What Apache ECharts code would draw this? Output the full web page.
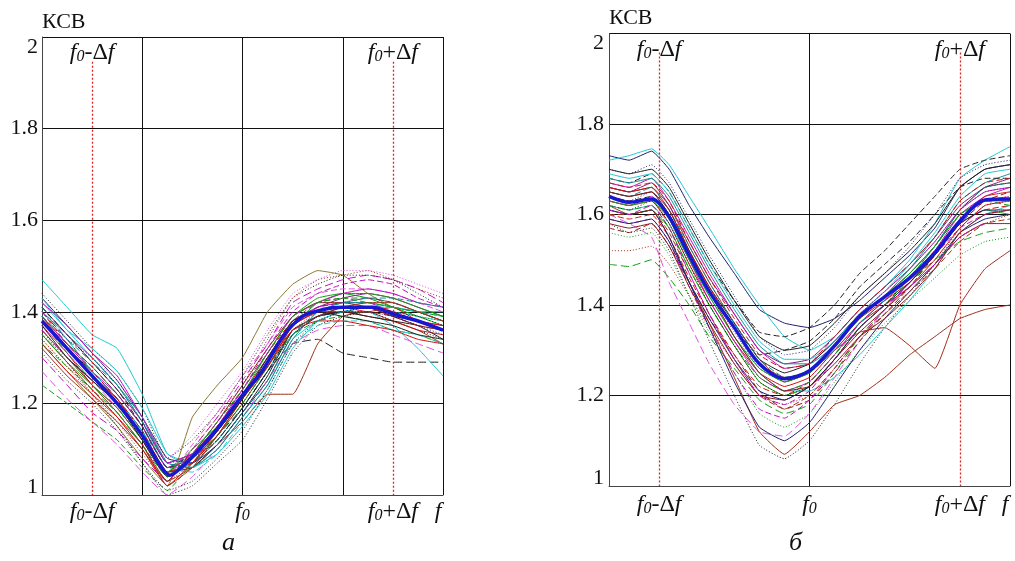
<!DOCTYPE html>
<html><head><meta charset="utf-8">
<script src="https://cdn.jsdelivr.net/npm/echarts@6/dist/echarts.min.js"></script>
<style>html,body{margin:0;padding:0;background:#fff}#c{width:1015px;height:561px}</style>
</head><body><div id="c"></div>
<script>
// ---------- DATA ----------
const yTicks = [1, 1.2, 1.4, 1.6, 1.8, 2];
const xLabelValues = [1, 4, 7, 7.9];          // f0-Δf, f0, f0+Δf, f
const markerX = [1, 7];                       // f0-Δf, f0+Δf (dotted lines)
const captions = ['а', 'б'];

// Panel а: x positions and curves
const xA = [0,0.5,1,1.5,2,2.5,3,3.5,4,4.5,5,5.5,6,6.5,7,7.5,8];
const a01 = [1.47,1.41,1.35,1.32,1.22,1.09,1.07,1.12,1.19,1.27,1.36,1.39,1.40,1.41,1.40,1.39,1.38];
const a02 = [1.40,1.34,1.27,1.21,1.13,1.05,1.08,1.13,1.19,1.27,1.33,1.34,1.31,1.30,1.29,1.29,1.29];
const a03 = [1.35,1.29,1.23,1.17,1.10,1.03,1.06,1.11,1.16,1.22,1.22,1.33,1.39,1.40,1.38,1.36,1.33];
const a04 = [1.42,1.36,1.30,1.24,1.16,1.06,1.06,1.10,1.17,1.24,1.34,1.38,1.40,1.40,1.37,1.32,1.26];
const a05 = [1.33,1.27,1.21,1.15,1.08,1.02,1.17,1.24,1.30,1.40,1.46,1.49,1.48,1.44,1.41,1.40,1.38];
const a06 = [1.36,1.29,1.22,1.15,1.07,1.00,1.02,1.07,1.12,1.21,1.31,1.37,1.39,1.40,1.38,1.36,1.34];
const a07 = [1.30,1.24,1.18,1.14,1.08,1.03,1.10,1.17,1.25,1.33,1.42,1.45,1.47,1.48,1.47,1.45,1.42];
const a08 = [1.37,1.31,1.24,1.19,1.12,1.04,1.08,1.15,1.22,1.30,1.37,1.40,1.40,1.39,1.38,1.36,1.35];
const a09 = [1.39,1.33,1.28,1.22,1.15,1.06,1.08,1.13,1.20,1.28,1.37,1.42,1.44,1.43,1.41,1.39,1.37];
const a10 = [1.41,1.35,1.29,1.23,1.16,1.07,1.09,1.14,1.21,1.29,1.38,1.41,1.43,1.44,1.43,1.41,1.39];
const a11 = [1.38,1.32,1.27,1.21,1.14,1.05,1.06,1.11,1.18,1.26,1.36,1.39,1.40,1.39,1.38,1.37,1.34];
const a12 = [1.34,1.28,1.22,1.16,1.09,1.03,1.10,1.17,1.24,1.34,1.43,1.47,1.48,1.49,1.47,1.45,1.43];
const a13 = [1.24,1.20,1.16,1.12,1.06,1.01,1.07,1.13,1.20,1.28,1.35,1.38,1.39,1.38,1.36,1.35,1.33];
const a14 = [1.40,1.33,1.27,1.21,1.14,1.05,1.09,1.15,1.23,1.31,1.38,1.40,1.40,1.40,1.39,1.37,1.36];
const a15 = [1.43,1.37,1.31,1.25,1.17,1.08,1.07,1.11,1.18,1.25,1.35,1.39,1.41,1.41,1.39,1.38,1.36];
const a16 = [1.39,1.33,1.27,1.22,1.15,1.06,1.08,1.14,1.21,1.29,1.37,1.41,1.42,1.42,1.40,1.38,1.37];
const a17 = [1.41,1.34,1.27,1.21,1.14,1.06,1.05,1.09,1.16,1.23,1.33,1.37,1.38,1.38,1.36,1.35,1.33];
const a18 = [1.36,1.30,1.24,1.18,1.11,1.03,1.09,1.16,1.24,1.32,1.39,1.42,1.42,1.41,1.39,1.37,1.36];
const a19 = [1.44,1.38,1.32,1.27,1.19,1.08,1.12,1.18,1.26,1.35,1.43,1.46,1.48,1.48,1.47,1.44,1.41];
const a20 = [1.27,1.21,1.16,1.11,1.05,1.00,1.04,1.10,1.17,1.25,1.33,1.36,1.37,1.37,1.35,1.33,1.31];
const a21 = [1.35,1.30,1.24,1.18,1.11,1.04,1.07,1.12,1.19,1.27,1.35,1.39,1.41,1.42,1.41,1.39,1.38];
const a22 = [1.37,1.31,1.25,1.19,1.12,1.04,1.11,1.18,1.26,1.33,1.41,1.44,1.45,1.45,1.44,1.42,1.40];
const a23 = [1.33,1.27,1.22,1.17,1.11,1.02,1.07,1.14,1.22,1.29,1.36,1.38,1.38,1.37,1.36,1.34,1.33];
const a24 = [1.40,1.35,1.30,1.24,1.17,1.07,1.06,1.10,1.17,1.24,1.34,1.40,1.42,1.42,1.41,1.40,1.40];
const a25 = [1.38,1.31,1.25,1.20,1.13,1.04,1.08,1.14,1.21,1.29,1.38,1.42,1.43,1.43,1.42,1.40,1.38];
const a26 = [1.41,1.35,1.29,1.23,1.15,1.06,1.07,1.12,1.19,1.27,1.36,1.39,1.40,1.41,1.40,1.38,1.36];
const a27 = [1.36,1.30,1.25,1.20,1.12,1.04,1.09,1.16,1.23,1.32,1.40,1.44,1.46,1.47,1.46,1.43,1.41];
const a28 = [1.39,1.32,1.26,1.21,1.13,1.05,1.07,1.13,1.21,1.28,1.37,1.40,1.41,1.40,1.41,1.38,1.37];
const a29 = [1.43,1.36,1.32,1.27,1.19,1.09,1.06,1.09,1.15,1.22,1.32,1.38,1.40,1.41,1.41,1.40,1.39];
const a30 = [1.31,1.25,1.20,1.14,1.07,1.01,1.03,1.08,1.14,1.23,1.33,1.38,1.40,1.41,1.40,1.39,1.37];
const a31 = [1.35,1.29,1.24,1.19,1.12,1.05,1.10,1.15,1.22,1.31,1.39,1.43,1.44,1.44,1.43,1.41,1.39];
const a32 = [1.38,1.33,1.28,1.22,1.15,1.06,1.09,1.15,1.22,1.30,1.38,1.41,1.42,1.43,1.42,1.40,1.38];
const a33 = [1.32,1.26,1.21,1.16,1.10,1.02,1.06,1.13,1.21,1.28,1.36,1.39,1.41,1.42,1.42,1.40,1.38];
const a34 = [1.40,1.34,1.30,1.24,1.16,1.07,1.08,1.12,1.19,1.27,1.35,1.39,1.40,1.40,1.39,1.37,1.35];
const a35 = [1.42,1.37,1.31,1.26,1.17,1.07,1.09,1.15,1.23,1.31,1.39,1.42,1.44,1.45,1.44,1.42,1.41];
const a36 = [1.34,1.28,1.23,1.17,1.10,1.03,1.07,1.13,1.20,1.28,1.36,1.40,1.41,1.41,1.40,1.38,1.36];
const a37 = [1.39,1.34,1.29,1.24,1.16,1.07,1.06,1.11,1.18,1.25,1.35,1.40,1.42,1.43,1.43,1.42,1.41];
const a38 = [1.37,1.30,1.25,1.20,1.12,1.04,1.08,1.14,1.21,1.30,1.38,1.40,1.39,1.38,1.37,1.35,1.34];
const a39 = [1.33,1.28,1.23,1.18,1.11,1.04,1.09,1.16,1.23,1.31,1.39,1.42,1.43,1.42,1.41,1.40,1.39];
const a40 = [1.40,1.35,1.30,1.25,1.17,1.08,1.13,1.20,1.27,1.36,1.44,1.47,1.49,1.49,1.48,1.46,1.44];
const curvesA = [a01,a02,a03,a04,a05,a06,a07,a08,a09,a10,a11,a12,a13,a14,a15,a16,a17,a18,a19,a20,
  a21,a22,a23,a24,a25,a26,a27,a28,a29,a30,a31,a32,a33,a34,a35,a36,a37,a38,a39,a40];
const xMeanA = [0,0.5,1,1.5,2,2.3,2.55,2.8,3.1,3.5,4,4.4,4.8,5.2,5.6,6,6.6,7,7.5,8];
const meanA  = [1.38,1.32,1.26,1.20,1.13,1.075,1.043,1.062,1.095,1.145,1.218,1.272,1.345,1.39,1.405,1.41,1.41,1.395,1.38,1.36];

// Panel б
const xB = [0,0.4,0.85,1.2,1.6,2,2.5,3,3.5,4,4.5,5,5.5,6,6.5,7,7.5,8];
const b01 = [1.73,1.72,1.74,1.70,1.62,1.55,1.47,1.39,1.36,1.35,1.37,1.41,1.46,1.51,1.57,1.66,1.70,1.71];
const b02 = [1.72,1.73,1.745,1.71,1.64,1.57,1.48,1.40,1.33,1.30,1.33,1.39,1.44,1.50,1.58,1.68,1.72,1.75];
const b03 = [1.49,1.485,1.50,1.46,1.40,1.33,1.26,1.19,1.16,1.18,1.25,1.33,1.39,1.45,1.50,1.54,1.56,1.57];
const b04 = [1.52,1.52,1.53,1.49,1.42,1.35,1.27,1.20,1.18,1.20,1.26,1.33,1.38,1.43,1.49,1.55,1.58,1.60];
const b05 = [1.60,1.58,1.55,1.45,1.36,1.27,1.18,1.12,1.11,1.16,1.24,1.32,1.39,1.45,1.52,1.59,1.63,1.64];
const b06 = [1.58,1.56,1.57,1.52,1.42,1.32,1.20,1.09,1.06,1.10,1.18,1.27,1.35,1.42,1.49,1.57,1.62,1.63];
const b07 = [1.62,1.60,1.61,1.55,1.45,1.36,1.24,1.12,1.07,1.12,1.18,1.20,1.24,1.29,1.33,1.37,1.39,1.40];
const b08 = [1.66,1.65,1.66,1.62,1.53,1.45,1.36,1.28,1.23,1.25,1.30,1.34,1.35,1.31,1.26,1.40,1.48,1.52];
const b09 = [1.68,1.67,1.69,1.65,1.57,1.49,1.41,1.34,1.33,1.35,1.40,1.47,1.52,1.58,1.64,1.70,1.72,1.73];
const b10 = [1.63,1.62,1.63,1.58,1.49,1.41,1.32,1.25,1.22,1.24,1.30,1.36,1.40,1.44,1.50,1.57,1.62,1.63];
const b11 = [1.66,1.65,1.67,1.62,1.54,1.46,1.38,1.30,1.27,1.28,1.33,1.39,1.44,1.49,1.55,1.62,1.66,1.68];
const b12 = [1.61,1.60,1.61,1.57,1.48,1.40,1.31,1.23,1.20,1.22,1.28,1.35,1.40,1.45,1.51,1.58,1.61,1.60];
const b13 = [1.62,1.61,1.62,1.58,1.50,1.42,1.33,1.25,1.21,1.21,1.24,1.29,1.35,1.41,1.48,1.56,1.60,1.62];
const b14 = [1.67,1.66,1.68,1.63,1.55,1.47,1.38,1.30,1.26,1.27,1.32,1.38,1.43,1.48,1.54,1.61,1.65,1.66];
const b15 = [1.57,1.56,1.58,1.53,1.45,1.37,1.29,1.21,1.17,1.19,1.25,1.32,1.38,1.44,1.51,1.58,1.63,1.65];
const b16 = [1.70,1.69,1.71,1.67,1.59,1.51,1.42,1.33,1.29,1.30,1.35,1.42,1.47,1.53,1.60,1.68,1.71,1.72];
const b17 = [1.56,1.55,1.56,1.51,1.42,1.34,1.25,1.16,1.13,1.16,1.23,1.30,1.36,1.41,1.46,1.51,1.54,1.55];
const b18 = [1.65,1.64,1.65,1.60,1.52,1.44,1.36,1.28,1.25,1.27,1.32,1.38,1.42,1.47,1.53,1.61,1.66,1.67];
const b19 = [1.60,1.59,1.60,1.55,1.46,1.38,1.29,1.22,1.20,1.23,1.29,1.36,1.41,1.46,1.52,1.58,1.61,1.62];
const b20 = [1.68,1.67,1.68,1.64,1.56,1.48,1.39,1.31,1.27,1.27,1.31,1.37,1.42,1.48,1.55,1.63,1.67,1.69];
const b21 = [1.59,1.58,1.59,1.54,1.44,1.35,1.25,1.17,1.15,1.19,1.26,1.33,1.39,1.45,1.51,1.57,1.60,1.61];
const b22 = [1.61,1.60,1.61,1.55,1.45,1.35,1.23,1.13,1.10,1.14,1.22,1.30,1.37,1.43,1.49,1.56,1.59,1.60];
const b23 = [1.64,1.63,1.64,1.60,1.51,1.43,1.35,1.29,1.30,1.32,1.37,1.44,1.49,1.54,1.60,1.66,1.68,1.68];
const b24 = [1.58,1.57,1.58,1.53,1.44,1.36,1.27,1.20,1.19,1.22,1.28,1.34,1.39,1.44,1.49,1.55,1.58,1.58];
const b25 = [1.63,1.62,1.64,1.59,1.50,1.41,1.32,1.24,1.21,1.23,1.29,1.36,1.41,1.46,1.52,1.60,1.64,1.66];
const b26 = [1.66,1.65,1.66,1.61,1.52,1.44,1.35,1.27,1.24,1.25,1.31,1.37,1.41,1.45,1.51,1.59,1.64,1.65];
const b27 = [1.62,1.61,1.62,1.57,1.48,1.40,1.31,1.24,1.21,1.23,1.29,1.35,1.40,1.46,1.53,1.60,1.63,1.62];
const b28 = [1.69,1.68,1.69,1.65,1.57,1.49,1.40,1.32,1.28,1.28,1.32,1.38,1.43,1.49,1.56,1.64,1.69,1.70];
const b29 = [1.60,1.60,1.61,1.56,1.47,1.38,1.28,1.20,1.17,1.20,1.26,1.33,1.38,1.43,1.48,1.54,1.58,1.59];
const b30 = [1.70,1.69,1.70,1.66,1.58,1.50,1.41,1.33,1.30,1.31,1.36,1.42,1.47,1.52,1.58,1.66,1.70,1.71];
const b31 = [1.64,1.63,1.65,1.60,1.51,1.43,1.34,1.26,1.23,1.25,1.31,1.38,1.43,1.48,1.54,1.61,1.65,1.66];
const b32 = [1.59,1.58,1.59,1.54,1.45,1.37,1.28,1.21,1.19,1.22,1.28,1.35,1.40,1.45,1.51,1.58,1.61,1.61];
const b33 = [1.67,1.66,1.67,1.63,1.54,1.46,1.37,1.29,1.26,1.27,1.33,1.39,1.44,1.49,1.55,1.63,1.67,1.68];
const b34 = [1.61,1.60,1.62,1.57,1.47,1.38,1.28,1.20,1.18,1.21,1.28,1.35,1.40,1.44,1.49,1.55,1.58,1.58];
const b35 = [1.65,1.64,1.66,1.61,1.53,1.45,1.36,1.28,1.24,1.25,1.30,1.36,1.41,1.46,1.53,1.61,1.66,1.67];
const b36 = [1.63,1.62,1.63,1.59,1.50,1.42,1.33,1.26,1.23,1.25,1.31,1.37,1.42,1.47,1.53,1.60,1.63,1.63];
const b37 = [1.65,1.64,1.65,1.61,1.52,1.43,1.33,1.25,1.21,1.22,1.27,1.33,1.37,1.42,1.48,1.56,1.60,1.61];
const b38 = [1.62,1.61,1.63,1.58,1.49,1.40,1.31,1.23,1.20,1.22,1.28,1.35,1.40,1.46,1.52,1.59,1.63,1.64];
const curvesB = [b01,b02,b03,b04,b05,b06,b07,b08,b09,b10,b11,b12,b13,b14,b15,b16,b17,b18,b19,b20,
  b21,b22,b23,b24,b25,b26,b27,b28,b29,b30,b31,b32,b33,b34,b35,b36,b37,b38];
const meanB = [1.64,1.627,1.634,1.595,1.51,1.43,1.35,1.27,1.237,1.255,1.31,1.375,1.418,1.46,1.515,1.585,1.632,1.634];

// ---------- STYLES ----------
const C = {red:'#d01010', brown:'#a0301a', maroon:'#8b1a1a', green:'#10a010', dkgreen:'#2e7d32',
  blue:'#1010b0', navy:'#202070', magenta:'#c010c0', pink:'#e050e0', cyan:'#20c8d0',
  teal:'#109090', black:'#202020', purple:'#802080', olive:'#8a7a30'};
const DS = [6,3], LD = [8,4], DT = [1,2];
const stylesA = [[C.cyan,'solid'],[C.black,LD],[C.brown,'solid'],[C.cyan,'solid'],[C.olive,'solid'],
  [C.black,DT],[C.magenta,LD],[C.red,'solid'],[C.green,'solid'],[C.purple,'solid'],[C.black,'solid'],
  [C.brown,DT],[C.green,DS],[C.red,DS],[C.navy,'solid'],[C.magenta,'solid'],[C.cyan,DS],
  [C.maroon,'solid'],[C.black,DT],[C.pink,LD],[C.green,DT],[C.pink,DS],[C.red,'solid'],
  [C.teal,'solid'],[C.dkgreen,DS],[C.black,DS],
  [C.magenta,DS],[C.red,'solid'],[C.cyan,'solid'],[C.black,DT],[C.green,'solid'],[C.purple,DS],
  [C.brown,'solid'],[C.navy,DT],[C.magenta,'solid'],[C.red,DT],[C.teal,DS],[C.black,'solid'],
  [C.green,DS],[C.pink,DT]];
const stylesB = [[C.navy,'solid'],[C.cyan,'solid'],[C.green,LD],[C.brown,DT],[C.pink,LD],
  [C.black,DT],[C.brown,'solid'],[C.brown,'solid'],[C.black,DS],[C.red,'solid'],[C.purple,'solid'],
  [C.green,'solid'],[C.cyan,'solid'],[C.magenta,'solid'],[C.maroon,DS],[C.navy,DT],[C.green,DT],
  [C.black,'solid'],[C.red,DS],[C.teal,'solid'],[C.magenta,DS],[C.navy,'solid'],[C.black,DS],
  [C.maroon,'solid'],
  [C.magenta,'solid'],[C.red,'solid'],[C.green,DS],[C.cyan,'solid'],[C.brown,DS],[C.black,'solid'],
  [C.purple,DT],[C.navy,'solid'],[C.red,DS],[C.magenta,DS],[C.teal,DS],[C.green,'solid'],
  [C.maroon,'solid'],[C.black,DT]];

const serif = '"Times New Roman", "Liberation Serif", "DejaVu Serif", serif';
const rich = {
  i:{fontFamily:serif, fontStyle:'italic', fontSize:24, color:'#111', verticalAlign:'bottom', lineHeight:24},
  s:{fontFamily:serif, fontStyle:'italic', fontSize:16, color:'#111', verticalAlign:'bottom', lineHeight:22},
  n:{fontFamily:serif, fontSize:24, color:'#111', verticalAlign:'bottom', lineHeight:24}
};
function fLabel(v){
  if (v === 1) return '{i|f}{s|0}{n|-Δ}{i|f}';
  if (v === 4) return '{i|f}{s|0}';
  if (v === 7) return '{i|f}{s|0}{n|+Δ}{i|f}';
  return '{i|f}';
}
const yRich = {
  t:{fontFamily:serif, fontSize:22, color:'#111', padding:[20,0,0,0]},
  b:{fontFamily:serif, fontSize:22, color:'#111', padding:[0,0,16,0]},
  m:{fontFamily:serif, fontSize:22, color:'#111'}
};
function yLabel(v){
  const r = +v.toFixed(1), s = String(r);
  if (r === 2) return '{t|' + s + '}';
  if (r === 1) return '{b|' + s + '}';
  return '{m|' + s + '}';
}

const gridLine = {show:true, lineStyle:{color:'#111', width:1}};
function makeX(gi, interval, caption, gap, lblMargin){
  return [
    {gridIndex:gi, type:'value', min:0, max:8, interval:interval, position:'bottom',
     axisLine:{show:true, lineStyle:{color:'#444'}}, axisTick:{show:false}, splitLine:gridLine,
     axisLabel:{customValues:xLabelValues, formatter:fLabel, rich:rich, margin:lblMargin, fontFamily:serif},
     name:caption, nameLocation:'middle', nameGap:gap,
     nameTextStyle:{fontFamily:serif, fontStyle:'italic', fontSize:26, color:'#111', padding:[0,28,0,0]}},
    {gridIndex:gi, type:'value', min:0, max:8, position:'top',
     axisLine:{show:false}, axisTick:{show:false}, splitLine:{show:false},
     axisLabel:{inside:true, customValues:markerX, formatter:fLabel, rich:rich, margin:4, fontFamily:serif}}
  ];
}
function makeY(gi, lblMargin){
  return {gridIndex:gi, type:'value', min:1, max:2, interval:0.2,
    axisLine:{show:true, lineStyle:{color:'#444'}}, axisTick:{show:false}, splitLine:gridLine,
    axisLabel:{formatter:yLabel, rich:yRich, margin:lblMargin, fontFamily:serif},
    name:'КСВ', nameLocation:'end', nameGap:4,
    nameTextStyle:{fontFamily:serif, fontSize:22, color:'#111', align:'left'}};
}

const series = [];
function addPanel(xs, curves, styles, xMean, mean, xi, yi, topY){
  curves.forEach((cv, k) => {
    const s = {type:'line', xAxisIndex:xi, yAxisIndex:yi, symbol:'none', smooth:0.12, silent:true,
      data: xs.map((x,i)=>[x, cv[i]]),
      lineStyle:{color:styles[k][0], type:styles[k][1], width:1}, z:2};
    if (k === 0) {
      s.markLine = {symbol:'none', silent:true, label:{show:false},
        lineStyle:{color:'#e02020', type:[2,2], width:1.3},
        data: markerX.map(mx => [{coord:[mx, topY]}, {coord:[mx, 1]}])};
    }
    series.push(s);
  });
  series.push({type:'line', xAxisIndex:xi, yAxisIndex:yi, symbol:'none', smooth:0.3, silent:true,
    data: xMean.map((x,i)=>[x, mean[i]]), lineStyle:{color:'#1818d0', width:3.5}, z:5});
}
addPanel(xA, curvesA, stylesA, xMeanA, meanA, 0, 0, 1.946);
addPanel(xB, curvesB, stylesB, xB, meanB, 2, 1, 1.958);

const chart = echarts.init(document.getElementById('c'), null, {renderer:'canvas'});
chart.setOption({
  animation:false,
  backgroundColor:'#fff',
  textStyle:{fontFamily:serif},
  grid:[{left:42, top:37, width:401, height:463}, {left:609, top:33.5, width:401, height:463.2}],
  xAxis:[...makeX(0, 2, captions[0], 35, 5), ...makeX(1, 4, captions[1], 44, 7)],
  yAxis:[makeY(0, 4), makeY(1, 5)],
  series:series
});
</script></body></html>
